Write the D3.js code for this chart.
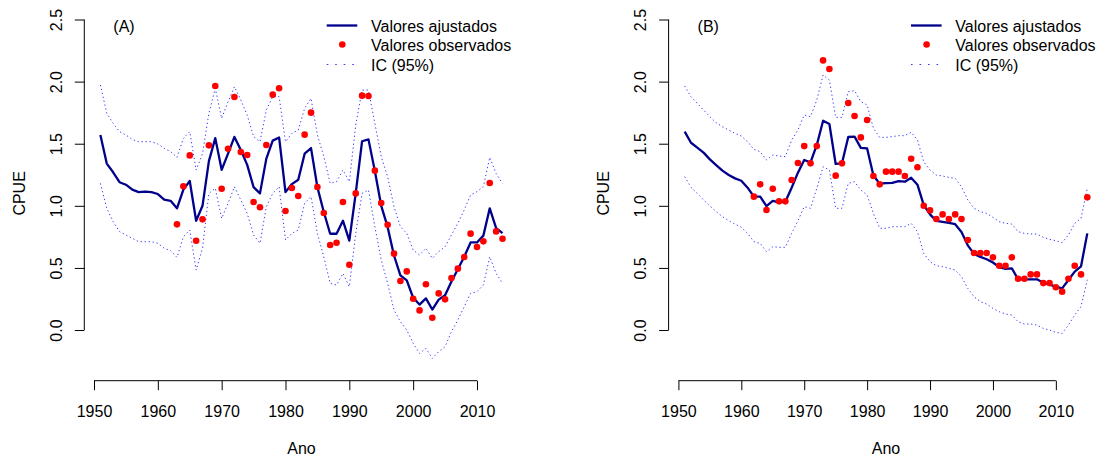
<!DOCTYPE html>
<html>
<head>
<meta charset="utf-8">
<script src="https://cdn.jsdelivr.net/npm/d3@7"></script>
<style>
  html, body { margin: 0; padding: 0; background: #ffffff; }
  svg { display: block; }
  text { font-family: "Liberation Sans", Arial, Helvetica, sans-serif; fill: #000; }
</style>
</head>
<body>
<svg id="chart" width="1100" height="457"></svg>
<script>
// ---- Panel (A) ----
const startA = 1951;           // first year of fitted series A
const obsStartA = 1963;        // first year of observed series A
const fitA = [1.57, 1.34, 1.27, 1.19, 1.17, 1.13, 1.11, 1.115, 1.11, 1.095,
  1.05, 1.04, 0.98, 1.13, 1.20, 0.88, 1.00, 1.36, 1.545, 1.29,
  1.42, 1.555, 1.45, 1.33, 1.15, 1.10, 1.38, 1.525, 1.55, 1.11,
  1.175, 1.21, 1.42, 1.465, 1.15, 0.95, 0.775, 0.775, 0.88, 0.72,
  1.10, 1.52, 1.535, 1.28, 1.00, 0.83, 0.60, 0.44, 0.40, 0.26,
  0.205, 0.255, 0.165, 0.245, 0.28, 0.39, 0.49, 0.59, 0.705, 0.705,
  0.76, 0.98, 0.82, 0.78];
const upA = [1.973, 1.745, 1.664, 1.597, 1.57, 1.535, 1.516, 1.516, 1.516, 1.498,
  1.463, 1.436, 1.39, 1.543, 1.597, 1.288, 1.42, 1.745, 1.946, 1.704,
  1.838, 1.959, 1.852, 1.73, 1.557, 1.516, 1.771, 1.879, 1.879, 1.516,
  1.583, 1.61, 1.785, 1.865, 1.57, 1.396, 1.181, 1.194, 1.288, 1.194,
  1.65, 1.932, 1.932, 1.664, 1.396, 1.235, 0.993, 0.832, 0.778, 0.644,
  0.604, 0.658, 0.577, 0.631, 0.671, 0.765, 0.859, 0.966, 1.087, 1.114,
  1.154, 1.39, 1.26, 1.18];
const loA = [1.181, 0.98, 0.872, 0.792, 0.765, 0.738, 0.711, 0.711, 0.711, 0.698,
  0.658, 0.639, 0.585, 0.751, 0.805, 0.483, 0.658, 1.10, 1.141, 0.899,
  1.02, 1.154, 1.047, 0.939, 0.765, 0.698, 0.993, 1.10, 1.154, 0.725,
  0.778, 0.805, 1.02, 1.074, 0.778, 0.59, 0.376, 0.362, 0.456, 0.349,
  0.778, 1.10, 1.127, 0.832, 0.564, 0.376, 0.161, 0.067, 0.0, -0.107,
  -0.188, -0.148, -0.228, -0.174, -0.134, -0.013, 0.081, 0.188, 0.295, 0.309,
  0.362, 0.59, 0.456, 0.376];
const obsA = [0.851, 1.157, 1.406, 0.719, 0.891, 1.487, 1.965, 1.138, 1.46, 1.876,
  1.433, 1.409, 1.031, 0.988, 1.49, 1.895, 1.946, 0.958, 1.143, 1.079,
  1.573, 1.75, 1.151, 0.942, 0.684, 0.703, 1.031, 0.526, 1.10, 1.887,
  1.884, 1.283, 1.023, 0.848, 0.615, 0.395, 0.472, 0.252, 0.158, 0.368,
  0.099, 0.295, 0.247, 0.419, 0.494, 0.588, 0.776, 0.668, 0.714, 1.184,
  0.794, 0.735];

// ---- Panel (B) ----
const startB = 1951;
const obsStartB = 1962;
const fitB = [1.597, 1.508, 1.468, 1.428, 1.374, 1.328, 1.283, 1.248, 1.221, 1.202,
  1.146, 1.074, 1.074, 0.998, 1.039, 1.028, 1.033, 1.146, 1.267, 1.369,
  1.35, 1.49, 1.685, 1.659, 1.337, 1.342, 1.554, 1.557, 1.467, 1.462,
  1.244, 1.178, 1.182, 1.185, 1.199, 1.194, 1.226, 1.17, 1.006, 0.931,
  0.879, 0.871, 0.862, 0.852, 0.79, 0.682, 0.613, 0.589, 0.57, 0.544,
  0.506, 0.493, 0.497, 0.408, 0.408, 0.408, 0.408, 0.38, 0.365, 0.349,
  0.335, 0.403, 0.47, 0.512, 0.778];
const upB = [1.965, 1.879, 1.825, 1.771, 1.718, 1.669, 1.637, 1.61, 1.583, 1.562,
  1.516, 1.455, 1.436, 1.369, 1.409, 1.401, 1.396, 1.53, 1.61, 1.731,
  1.718, 1.852, 2.053, 2.013, 1.712, 1.712, 1.919, 1.927, 1.838, 1.812,
  1.624, 1.551, 1.551, 1.557, 1.565, 1.565, 1.592, 1.53, 1.355, 1.288,
  1.248, 1.24, 1.229, 1.221, 1.154, 1.047, 0.98, 0.953, 0.939, 0.907,
  0.872, 0.859, 0.853, 0.792, 0.778, 0.773, 0.773, 0.746, 0.73, 0.719,
  0.703, 0.765, 0.859, 0.899, 1.141];
const loB = [1.235, 1.149, 1.10, 1.047, 0.998, 0.953, 0.913, 0.88, 0.853, 0.827,
  0.778, 0.711, 0.698, 0.631, 0.671, 0.666, 0.666, 0.778, 0.88, 0.993,
  0.98, 1.141, 1.315, 1.288, 0.98, 0.98, 1.181, 1.194, 1.127, 1.087,
  0.939, 0.819, 0.819, 0.832, 0.832, 0.832, 0.859, 0.792, 0.617, 0.55,
  0.518, 0.51, 0.497, 0.483, 0.429, 0.335, 0.268, 0.228, 0.209, 0.174,
  0.148, 0.129, 0.121, 0.067, 0.048, 0.048, 0.04, 0.013, 0.0, -0.019,
  -0.027, 0.04, 0.121, 0.188, 0.405];
const obsB = [1.074, 1.173, 0.966, 1.138, 1.036, 1.036, 1.208, 1.345, 1.481, 1.342,
  1.481, 2.171, 2.101, 1.243, 1.342, 1.828, 1.723, 1.551, 1.691, 1.24,
  1.173, 1.275, 1.275, 1.275, 1.24, 1.379, 1.31, 1.001, 0.963, 0.894,
  0.931, 0.894, 0.931, 0.894, 0.725, 0.62, 0.62, 0.62, 0.585, 0.518,
  0.518, 0.585, 0.413, 0.413, 0.448, 0.448, 0.378, 0.378, 0.344, 0.309,
  0.413, 0.518, 0.448, 1.068];

// ---- Axis ticks and labels ----
const xTicks = [1950, 1960, 1970, 1980, 1990, 2000, 2010];
const yTicks = [0, 0.5, 1.0, 1.5, 2.0, 2.5];
const legendLabels = ["Valores ajustados", "Valores observados", "IC (95%)"];
const xTitle = "Ano";
const yTitle = "CPUE";

const svg = d3.select("#chart");
const FS = 16;
const fitColor = "#00008B";
const obsColor = "#FF0000";
const ciColor = "#3a3aff";

// shared vertical scale (ylim -0.3..2.5 with 4% padding)
const y = d3.scaleLinear().domain([-0.412, 2.612]).range([381.2, 5.6]);

function seriesPoints(start, vals) {
  return vals.map((v, i) => ({ yr: start + i, v }));
}

function drawPanel(opts) {
  const { left, right, domain, tag, start, fit, up, lo, obsStart, obs } = opts;
  const x = d3.scaleLinear().domain(domain).range([left, right]);
  const g = svg.append("g");
  const bottom = y.range()[0];

  const line = d3.line().x(d => x(d.yr)).y(d => y(d.v));

  // confidence band edges (dotted)
  [up, lo].forEach(arr => {
    g.append("path")
      .datum(seriesPoints(start, arr))
      .attr("d", line)
      .attr("fill", "none")
      .attr("stroke", ciColor)
      .attr("stroke-width", 1)
      .attr("stroke-dasharray", "1.3,2.7");
  });

  // fitted values
  g.append("path")
    .datum(seriesPoints(start, fit))
    .attr("d", line)
    .attr("fill", "none")
    .attr("stroke", fitColor)
    .attr("stroke-width", 2.3)
    .attr("stroke-linejoin", "round");

  // observed values
  g.selectAll("circle.obs")
    .data(seriesPoints(obsStart, obs))
    .join("circle")
    .attr("class", "obs")
    .attr("cx", d => x(d.yr))
    .attr("cy", d => y(d.v))
    .attr("r", 3.3)
    .attr("fill", obsColor);

  // x axis
  const xa = g.append("g")
    .attr("transform", `translate(0,${bottom - 0.5})`)
    .call(d3.axisBottom(x).tickValues(xTicks).tickFormat(d3.format("d"))
      .tickSizeInner(9.5).tickSizeOuter(0).tickPadding(15));
  xa.select(".domain").remove();
  xa.append("line")
    .attr("x1", x(xTicks[0])).attr("x2", x(xTicks[xTicks.length - 1]))
    .attr("stroke", "#000");
  xa.selectAll(".tick line").attr("stroke", "#000");
  xa.selectAll("text").style("font-size", FS + "px").attr("fill", "#000")
    .style("font-family", '"Liberation Sans", Arial, sans-serif');

  // y axis
  const ya = g.append("g")
    .attr("transform", `translate(${left},0)`)
    .call(d3.axisLeft(y).tickValues(yTicks).tickFormat(d3.format(".1f"))
      .tickSizeInner(9.5).tickSizeOuter(0));
  ya.select(".domain").remove();
  ya.append("line")
    .attr("y1", y(yTicks[0])).attr("y2", y(yTicks[yTicks.length - 1]))
    .attr("stroke", "#000");
  ya.selectAll(".tick line").attr("stroke", "#000");
  ya.selectAll("text")
    .attr("x", null).attr("dy", null)
    .attr("text-anchor", "middle")
    .attr("transform", "translate(-22.4,0) rotate(-90)")
    .style("font-size", FS + "px").attr("fill", "#000")
    .style("font-family", '"Liberation Sans", Arial, sans-serif');

  // axis titles
  g.append("text")
    .attr("x", (left + right) / 2).attr("y", 454)
    .attr("text-anchor", "middle")
    .style("font-size", FS + "px")
    .text(xTitle);
  g.append("text")
    .attr("transform", `translate(${left - 59.7},${(y.range()[0] + y.range()[1]) / 2}) rotate(-90)`)
    .attr("text-anchor", "middle")
    .style("font-size", FS + "px")
    .text(yTitle);

  // panel tag
  g.append("text")
    .attr("x", left + 29).attr("y", 31.5)
    .style("font-size", FS + "px")
    .text(tag);

  // legend
  const lx = left + 242.4;
  const baselines = [31.5, 51, 70.5];
  const lg = g.append("g");
  lg.append("line")
    .attr("x1", lx).attr("x2", lx + 30.6)
    .attr("y1", baselines[0] - 6).attr("y2", baselines[0] - 6)
    .attr("stroke", fitColor).attr("stroke-width", 2.3);
  lg.append("circle")
    .attr("cx", lx + 15.6).attr("cy", baselines[1] - 6.5)
    .attr("r", 3.3).attr("fill", obsColor);
  lg.append("line")
    .attr("x1", lx).attr("x2", lx + 30.6)
    .attr("y1", baselines[2] - 6).attr("y2", baselines[2] - 6)
    .attr("stroke", ciColor).attr("stroke-width", 1.2)
    .attr("stroke-dasharray", "1.6,6.9");
  legendLabels.forEach((t, i) => {
    lg.append("text")
      .attr("x", lx + 44.3).attr("y", baselines[i])
      .style("font-size", FS + "px")
      .text(t);
  });
}

drawPanel({
  left: 84.3, right: 518.6, domain: [1948.48, 2016.52], tag: "(A)",
  start: startA, fit: fitA, up: upA, lo: loA, obsStart: obsStartA, obs: obsA
});
drawPanel({
  left: 668.6, right: 1103.4, domain: [1948.44, 2017.56], tag: "(B)",
  start: startB, fit: fitB, up: upB, lo: loB, obsStart: obsStartB, obs: obsB
});
</script>
</body>
</html>
